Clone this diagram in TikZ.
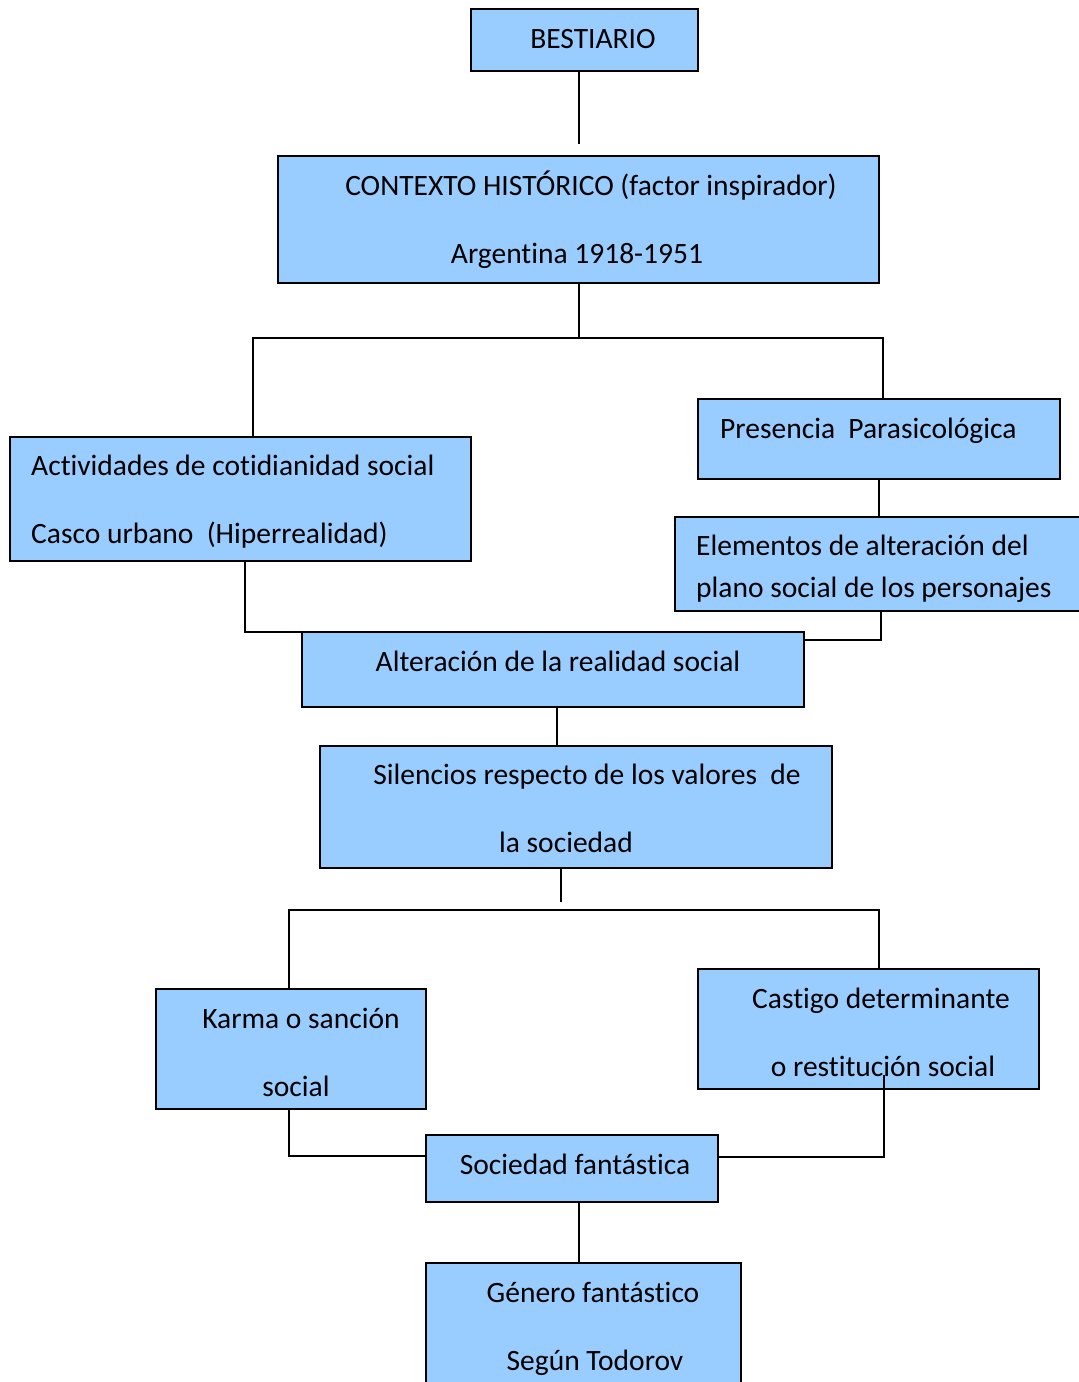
\documentclass[tikz,border=0pt]{standalone}
\usepackage{fontspec}
\setmainfont{Carlito}[Ligatures=NoCommon]
\definecolor{boxblue}{HTML}{99CCFF}
\begin{document}
\begin{tikzpicture}[x=1pt,y=-1pt,
  box/.style={draw=black, fill=boxblue, line width=2pt, rectangle, inner sep=0pt, outer sep=0pt},
  txt/.style={inner sep=0pt, anchor=mid, font=\fontsize{29.5}{35}\selectfont},
  ltxt/.style={txt, anchor=mid west},
  link/.style={draw=black, line width=2pt}]
\useasboundingbox (0,0) rectangle (1079,1382);

% boxes
\node[box, minimum width=227pt, minimum height=62pt]  (best)  at (584.5,40) {};
\node[box, minimum width=601pt, minimum height=127pt] (ctx)   at (578.5,219.5) {};
\node[box, minimum width=461pt, minimum height=124pt] (act)   at (240.5,499) {};
\node[box, minimum width=362pt, minimum height=80pt]  (pres)  at (879,439) {};
\node[box, minimum width=417pt, minimum height=94pt]  (elem)  at (883.5,564) {};
\node[box, minimum width=502pt, minimum height=75pt]  (alt)   at (553,669.5) {};
\node[box, minimum width=512pt, minimum height=122pt] (sil)   at (576,807) {};
\node[box, minimum width=270pt, minimum height=120pt] (karma) at (291,1049) {};
\node[box, minimum width=341pt, minimum height=120pt] (cast)  at (868.5,1029) {};
\node[box, minimum width=292pt, minimum height=67pt]  (soc)   at (572,1168.5) {};
\node[box, minimum width=315pt, minimum height=132pt] (gen)   at (583.5,1329) {};

% texts
\node[txt]  (tbest)  at (593,46)   {BESTIARIO};
\node[txt]  (tctx1)  at (591,193)  {CONTEXTO HISTÓRICO (factor inspirador)};
\node[txt]  (tctx2)  at (577,261)  {Argentina 1918-1951};
\node[ltxt] (tact1)  at (31,473)   {Actividades de cotidianidad social};
\node[ltxt] (tact2)  at (31,541)   {Casco urbano~ (Hiperrealidad)};
\node[ltxt] (tpres)  at (720,436)  {Presencia~ Parasicológica};
\node[ltxt] (telem1) at (696,553)  {Elementos de alteración del};
\node[ltxt] (telem2) at (696,595)  {plano social de los personajes};
\node[txt]  (talt)   at (558,669)  {Alteración de la realidad social};
\node[txt]  (tsil1)  at (587,782)  {Silencios respecto de los valores~ de};
\node[txt]  (tsil2)  at (566,850)  {la sociedad};
\node[txt]  (tkar1)  at (301,1026) {Karma o sanción};
\node[txt]  (tkar2)  at (296,1094) {social};
\node[txt]  (tcas1)  at (881,1006) {Castigo determinante};
\node[txt]  (tcas2)  at (883,1074) {o restitución social};
\node[txt]  (tsoc)   at (575,1172) {Sociedad fantástica};
\node[txt]  (tgen1)  at (593,1300) {Género fantástico};
\node[txt]  (tgen2)  at (595,1368) {Según Todorov};

% junction points
\coordinate (j1) at (579,144);
\coordinate (j2) at (579,338);
\coordinate (jl) at (253,338);
\coordinate (jr) at (883,338);
\coordinate (j3) at (879,500);
\coordinate (k1) at (245,632);
\coordinate (k2) at (881,640);
\coordinate (j4) at (557,720);
\coordinate (m1) at (561,902);
\coordinate (ml) at (289,910);
\coordinate (mr) at (879,910);
\coordinate (n1) at (289,1156);
\coordinate (n2s) at (884,1075);
\coordinate (n2) at (884,1157);
\coordinate (j5) at (579,1230);

% connectors
\draw[link] (best.south -| j1) -- (j1);
\draw[link] (ctx.south -| j2) -- (j2);
\draw[link] (jl |- act.north) -- (jl) -- (jr) -- (jr |- pres.north);
\draw[link] (pres.south -| j3) -- (elem.north -| j3);
\draw[link] (act.south -| k1) -- (k1) -- (k1 -| alt.west);
\draw[link] (elem.south -| k2) -- (k2) -- (k2 -| alt.east);
\draw[link] (alt.south -| j4) -- (sil.north -| j4);
\draw[link] (sil.south -| m1) -- (m1);
\draw[link] (ml |- karma.north) -- (ml) -- (mr) -- (mr |- cast.north);
\draw[link] (karma.south -| n1) -- (n1) -- (n1 -| soc.west);
\draw[link] (n2s) -- (n2) -- (n2 -| soc.east);
\draw[link] (soc.south -| j5) -- (gen.north -| j5);
\end{tikzpicture}
\end{document}
